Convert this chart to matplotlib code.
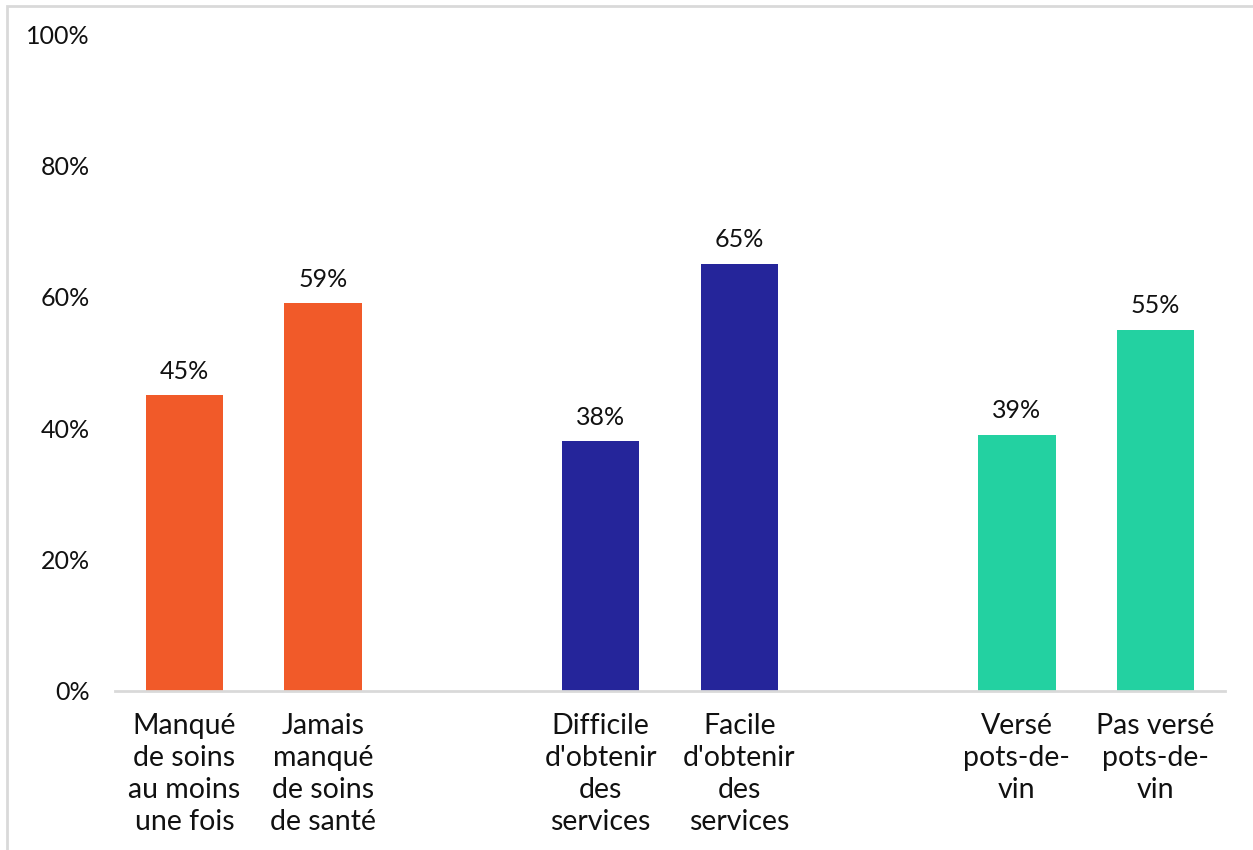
import numpy as np
import matplotlib as mpl
from matplotlib import pyplot as plt
from matplotlib.patches import Rectangle

categories = ["Manqué\nde soins\nau moins\nune fois", "Jamais\nmanqué\nde soins\nde santé",
              "Difficile\nd'obtenir\ndes\nservices", "Facile\nd'obtenir\ndes\nservices",
              "Versé\npots-de-\nvin", "Pas versé\npots-de-\nvin"]
values = [45, 59, 38, 65, 39, 55]
positions = [0, 1, 3, 4, 6, 7]
colors = ["#F15A29", "#F15A29", "#25259A", "#25259A", "#23D1A1", "#23D1A1"]
yticks = [0, 20, 40, 60, 80, 100]

plt.rcParams['font.family'] = ['Lato', 'DejaVu Sans']

fig = plt.figure(figsize=(12.53, 8.5), dpi=100)
ax = fig.add_axes([115/1253, 159/850, 1110/1253, 657/850])

# light grey frame around the chart area
fig.patches.append(Rectangle((7/1253, -0.1), 1.2, (850-6)/850 + 0.1, transform=fig.transFigure,
                             fill=False, edgecolor="#D9D9D9", linewidth=2))

bars = ax.bar(positions, values, width=0.56, color=colors)
for x, v in zip(positions, values):
    ax.annotate(f"{v}%", (x, v), xytext=(0, 9), textcoords="offset points",
                ha="center", va="bottom", fontsize=18, color="#111111")

ax.set_xlim(-0.5, 7.5)
ax.set_ylim(0, 100)
ax.set_yticks(yticks)
ax.set_yticklabels([f"{t}%" for t in yticks], fontsize=18, color="#111111")
ax.set_xticks(positions)
ax.set_xticklabels(categories, fontsize=20.5, color="#111111", linespacing=1.28, va="top")
ax.tick_params(axis="both", length=0)
ax.tick_params(axis="y", pad=18)
ax.tick_params(axis="x", pad=16)

for s in ["top", "right", "left"]:
    ax.spines[s].set_visible(False)
ax.spines["bottom"].set_color("#D9D9D9")
ax.spines["bottom"].set_linewidth(2)

fig.savefig("out.png", dpi=100)
